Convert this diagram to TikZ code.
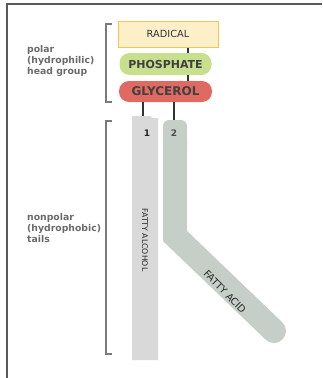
\documentclass[tikz,border=0pt]{standalone}
\usepackage{fontspec}
\setmainfont{DejaVu Sans}
\definecolor{radfill}{HTML}{FDF0C8}
\definecolor{radedge}{HTML}{F3C552}
\definecolor{phosfill}{HTML}{C8DF8E}
\definecolor{glyfill}{HTML}{E06A62}
\definecolor{alcfill}{HTML}{D9D9D9}
\definecolor{acidfill}{HTML}{C6CFC7}
\definecolor{labgray}{HTML}{6A6A6A}
\definecolor{brk}{HTML}{7A7A7A}
\tikzset{
  pill/.style={rounded corners=10pt, minimum width=92pt, minimum height=22pt, inner sep=0pt, text=black!75, font=\fontsize{11}{12}\selectfont\bfseries},
  link/.style={draw=black!80, line width=1.8pt},
  bracket/.style={draw=brk, line width=1.2pt},
  sidelabel/.style={align=left, anchor=west, text=labgray, font=\fontsize{9.3}{11}\selectfont\bfseries, inner sep=0pt},
  frameline/.style={draw=black!65, line width=1.5pt}
}
\begin{document}
\begin{tikzpicture}[x=1pt,y=-1pt]
\useasboundingbox (0,0) rectangle (322,378);
% frame
\draw[frameline] (7,378) -- (7,4) -- (322,4);
% head group
\node[draw=radedge, fill=radfill, line width=1pt, minimum width=100pt, minimum height=26pt, inner sep=0pt, font=\fontsize{9.8}{12}\selectfont, text=black!80] (rad) at (168,34) {RADICAL};
\node[pill, fill=phosfill] (phos) at (165.5,64) {PHOSPHATE};
\node[pill, fill=glyfill, minimum width=93pt, minimum height=21pt, font=\fontsize{12}{13}\selectfont\bfseries] (gly) at (165.5,91.5) {GLYCEROL};
\draw[link] (rad.south -| 188,0) -- (phos.north -| 188,0);
\draw[link] (phos.south -| 188,0) -- (gly.north -| 188,0);
% tails
\fill[alcfill] (132,360) -- (132,116) -- (151,116) -- (152,118) -- (158,118) -- (158,360) -- cycle;
\coordinate (alcTop) at (143,116);
\fill[acidfill, rounded corners=6pt] (163,150) -- (163,120) -- (187,120) -- (187,150) -- cycle;
\draw[acidfill, line width=24pt, line join=miter, line cap=round] (175,140) -- (175,236) -- (274,331);
\coordinate (acidTop) at (174,120);
\draw[link] (gly.south -| alcTop) -- (alcTop);
\draw[link] (gly.south -| acidTop) -- (acidTop);
\node[font=\fontsize{9}{10}\selectfont\bfseries, text=black!85] (n1) at (147,133) {1};
\node[font=\fontsize{9}{10}\selectfont\bfseries, text=black!70] (n2) at (174,133) {2};
\node[rotate=-90, font=\fontsize{7.8}{9}\selectfont, text=black!85] (alc) at (145,240) {FATTY ALCOHOL};
\node[rotate=-46, font=\fontsize{9.8}{11}\selectfont, text=black!85] (acid) at (225,292) {FATTY ACID};
% brackets
\draw[bracket] (112,24) -- (106,24) -- (106,102) -- (112,102);
\draw[bracket] (112,121) -- (106,121) -- (106,354) -- (112,354);
\node[sidelabel] (polar) at (27,61) {polar\\(hydrophilic)\\head group};
\node[sidelabel] (nonpolar) at (27,228) {nonpolar\\(hydrophobic)\\tails};
\end{tikzpicture}
\end{document}
